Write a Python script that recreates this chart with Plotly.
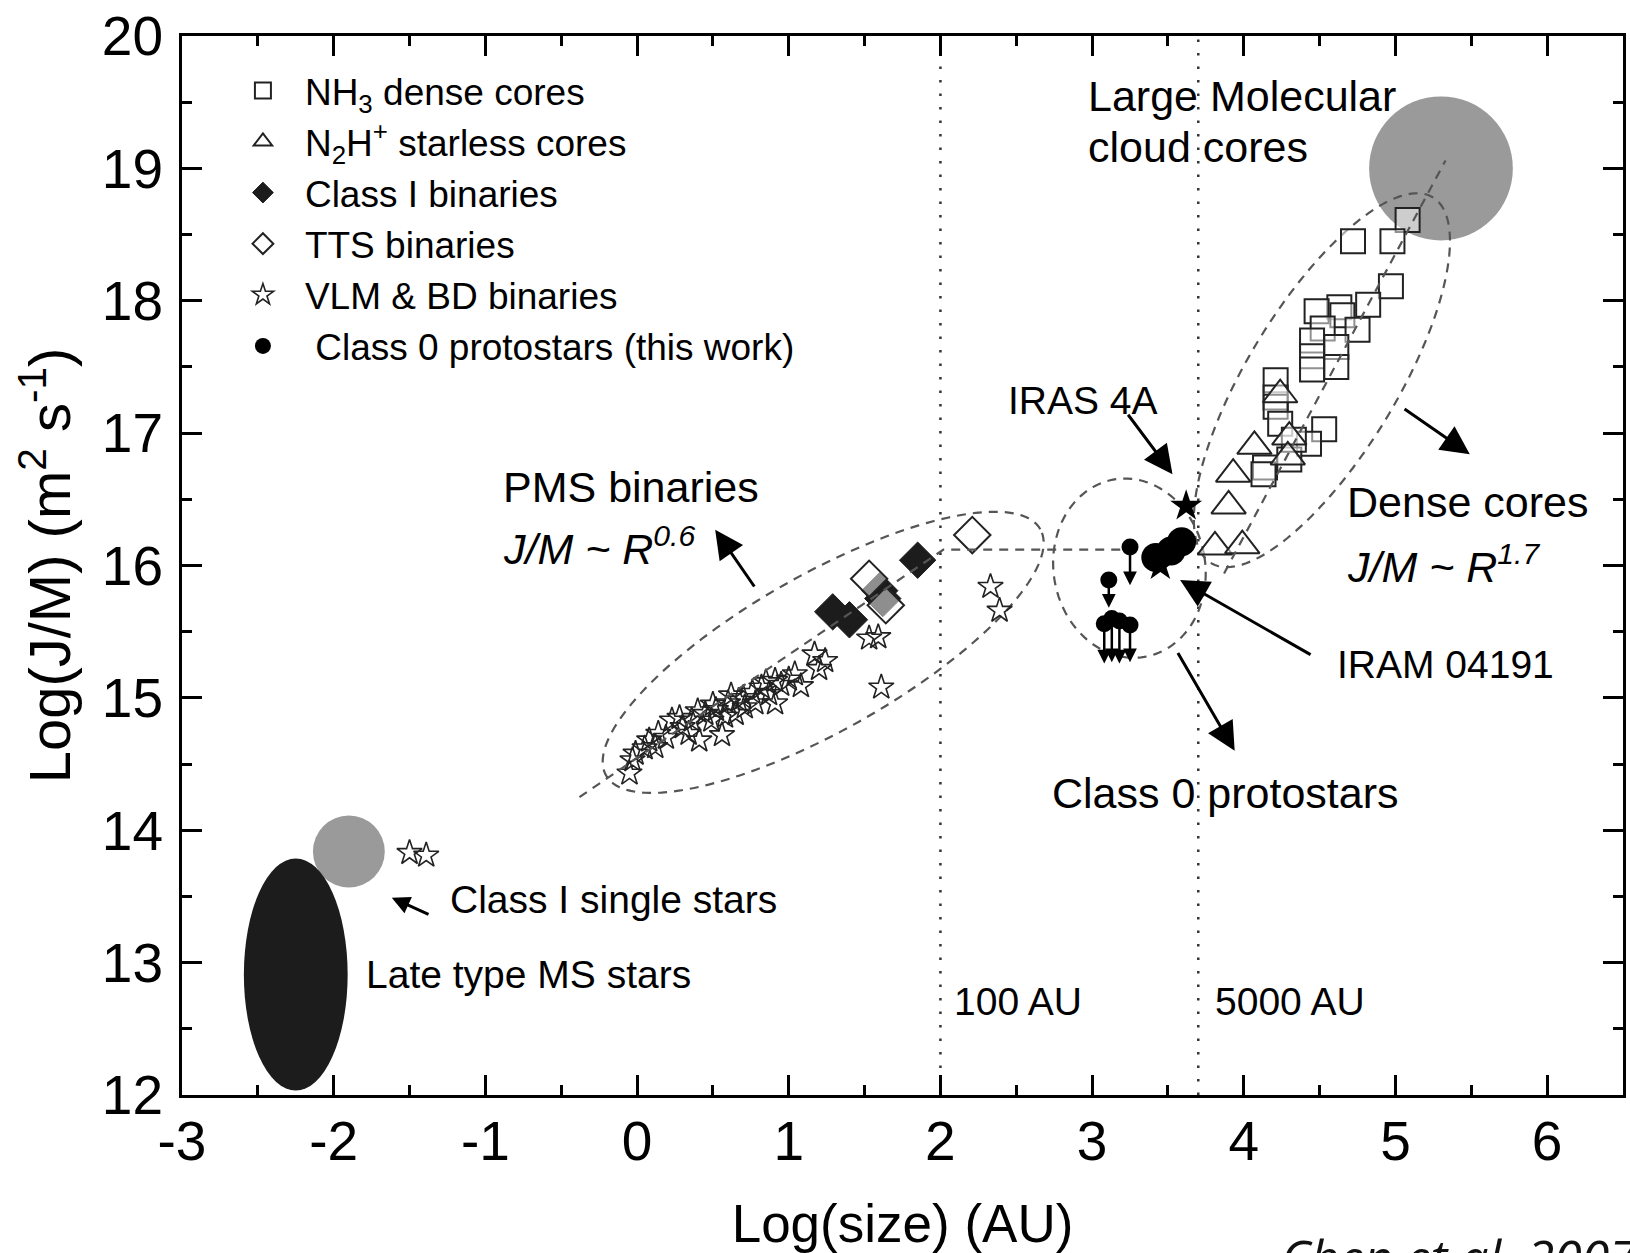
import numpy as np
import plotly.graph_objects as go

# ---------------- data ----------------
nh3_x = [5.08, 4.72, 4.98, 4.97, 4.82, 4.63, 4.48, 4.65, 4.75, 4.52, 4.45, 4.61, 4.45,
         4.61, 4.45, 4.21, 4.21, 4.21, 4.53, 4.43, 4.24, 4.14, 4.30, 4.33, 4.13]
nh3_y = [18.61, 18.45, 18.45, 18.11, 17.97, 17.95, 17.92, 17.89, 17.78, 17.79, 17.70, 17.65, 17.58,
         17.50, 17.48, 17.40, 17.27, 17.20, 17.03, 16.92, 17.07, 16.74, 16.80, 16.95, 16.69]

n2h_x = [4.24, 4.30, 4.07, 4.29, 3.93, 3.90, 3.81, 3.99]
n2h_y = [17.29, 16.97, 16.90, 16.82, 16.69, 16.45, 16.14, 16.15]

c1bin_x = [1.85, 1.60, 1.29, 1.40, 1.62]
c1bin_y = [16.04, 15.81, 15.65, 15.59, 15.75]

tts_x = [2.21, 1.53, 1.64]
tts_y = [16.23, 15.90, 15.70]

vlm_x = [2.33, 2.39, 1.53, 1.59, 1.61, 1.24, 1.17, 1.08, 1.00, 0.91, 0.91, 0.82, 0.76, 0.67,
         0.71, 0.60, 0.58, 0.52, 0.45, 0.56, 0.41, 0.36, 0.30, 0.23, 0.19, 0.12, 0.14, -0.01,
         -0.05, -0.03, 0.78, 0.87, 1.04, 0.65, 0.49, 0.34, 0.08, 0.95, 0.70, 0.50, 0.85, 0.62,
         1.20, 0.28, 0.05, 0.40, -1.50, -1.39]
vlm_y = [15.84, 15.66, 15.45, 15.46, 15.08, 15.28, 15.33, 15.09, 15.14, 15.13, 14.96, 15.08, 15.04, 14.98,
         14.93, 14.96, 14.86, 14.91, 14.88, 14.72, 14.68, 14.83, 14.78, 14.83, 14.70, 14.63, 14.73, 14.58,
         14.43, 14.53, 14.96, 15.03, 15.18, 14.88, 14.83, 14.73, 14.68, 15.10, 15.00, 14.95, 15.12, 15.02,
         15.22, 14.85, 14.62, 14.90, 13.83, 13.81]

# Class 0 protostars (this work): small symbols are upper limits
c0_lim_x = [3.25, 3.11, 3.08, 3.13, 3.18, 3.25]
c0_lim_y = [16.14, 15.89, 15.56, 15.60, 15.58, 15.55]
c0_lim_to = [15.85, 15.68, 15.26, 15.27, 15.26, 15.27]
c0_big_x = [3.42, 3.52, 3.59]
c0_big_y = [16.06, 16.11, 16.18]

special_names = ["IRAS 4A", "IRAM 04191"]
special_x = [3.62, 3.45]
special_y = [16.45, 16.00]

# fitted trends
pms_fit_x = [-0.38, 2.02, 3.20]
pms_fit_y = [14.25, 16.12, 16.12]
core_fit_x = [3.87, 5.33]
core_fit_y = [15.94, 19.06]

x_ticks = [-3, -2, -1, 0, 1, 2, 3, 4, 5, 6]
y_ticks = [12, 13, 14, 15, 16, 17, 18, 19, 20]

# ---------------- layout geometry ----------------
W, H = 1630, 1253
ML, MR, MT, MB = 182, 4, 36, 158
X0, X1, Y0, Y1 = -3, 6.5, 12, 20
SX = (W - ML - MR) / (X1 - X0)
SY = (H - MT - MB) / (Y1 - Y0)

FONT = "Liberation Sans, Arial, sans-serif"

fig = go.Figure()


def ellipse_path(cx, cy, a_px, b_px, ang_deg, n=160):
    t = np.linspace(0, 2 * np.pi, n)
    ang = np.deg2rad(ang_deg)
    dx = a_px * np.cos(t) * np.cos(ang) - b_px * np.sin(t) * np.sin(ang)
    dy = a_px * np.cos(t) * np.sin(ang) + b_px * np.sin(t) * np.cos(ang)
    xs = cx + dx / SX
    ys = cy + dy / SY
    return "M " + " L ".join(f"{x:.4f},{y:.4f}" for x, y in zip(xs, ys)) + " Z"


def px_circle(cx, cy, rx_px, ry_px, color, layer="below"):
    fig.add_shape(type="circle", xref="x", yref="y",
                  x0=cx - rx_px / SX, x1=cx + rx_px / SX,
                  y0=cy - ry_px / SY, y1=cy + ry_px / SY,
                  fillcolor=color, line=dict(width=0), layer=layer)


# filled regions
px_circle(5.30, 19.00, 72, 72, "#9a9a9a")          # large molecular cloud cores
px_circle(-1.90, 13.84, 36, 36, "#9a9a9a")         # class I single stars
px_circle(-2.25, 12.91, 52, 116, "#1c1c1c")        # late type MS stars

# dashed group ellipses
DASH_E = "9px,7px"
for cx, cy, a, b, ang in [(1.227, 15.344, 250, 78, 29.5),
                          (4.515, 17.40, 214, 75, 58.7),
                          (3.246, 15.98, 76, 90, 10)]:
    fig.add_shape(type="path", xref="x", yref="y", path=ellipse_path(cx, cy, a, b, ang),
                  line=dict(color="#555555", width=2.2, dash=DASH_E), layer="below")

# vertical dotted lines (100 AU, 5000 AU)
for xv in [2.0, 3.7]:
    fig.add_shape(type="line", xref="x", yref="paper", x0=xv, x1=xv, y0=0, y1=1,
                  line=dict(color="#333333", width=2.5, dash="2.5px,11px"), layer="below")

# ---------------- data traces ----------------
fig.add_trace(go.Scatter(x=nh3_x, y=nh3_y, mode="markers", name="NH<sub>3</sub> dense cores",
                         marker=dict(symbol="square", size=24, color="rgba(255,255,255,0.5)",
                                     line=dict(color="#222222", width=2))))
fig.add_trace(go.Scatter(x=n2h_x, y=n2h_y, mode="markers", name="N<sub>2</sub>H<sup>+</sup> starless cores",
                         marker=dict(symbol="triangle-up", size=30, color="rgba(255,255,255,0.5)",
                                     line=dict(color="#222222", width=2))))
fig.add_trace(go.Scatter(x=c1bin_x, y=c1bin_y, mode="markers", name="Class I binaries",
                         marker=dict(symbol="diamond", size=28, color="#1c1c1c",
                                     line=dict(color="#1c1c1c", width=1))))
fig.add_trace(go.Scatter(x=tts_x, y=tts_y, mode="markers", name="TTS binaries",
                         marker=dict(symbol="diamond", size=28, color="rgba(255,255,255,0.5)",
                                     line=dict(color="#222222", width=2))))
fig.add_trace(go.Scatter(x=vlm_x, y=vlm_y, mode="markers", name="VLM & BD binaries",
                         marker=dict(symbol="star-open", size=19, color="#222222",
                                     line=dict(width=1.6))))
fig.add_trace(go.Scatter(x=c0_lim_x, y=c0_lim_y, mode="markers", name=" Class 0 protostars (this work)",
                         marker=dict(symbol="circle", size=17, color="black")))
fig.add_trace(go.Scatter(x=c0_big_x, y=c0_big_y, mode="markers", showlegend=False,
                         marker=dict(symbol="circle", size=29, color="black")))
fig.add_trace(go.Scatter(x=special_x, y=special_y, mode="markers", showlegend=False,
                         text=special_names, hoverinfo="text",
                         marker=dict(symbol="star", size=24, color="black")))

# fitted trend lines
fig.add_trace(go.Scatter(x=pms_fit_x, y=pms_fit_y, mode="lines", showlegend=False, hoverinfo="skip",
                         line=dict(color="#555555", width=2.2, dash=DASH_E)))
fig.add_trace(go.Scatter(x=core_fit_x, y=core_fit_y, mode="lines", showlegend=False, hoverinfo="skip",
                         line=dict(color="#555555", width=2.2, dash=DASH_E)))

# upper-limit arrows for class 0 sources
for xs, ys, yt in zip(c0_lim_x, c0_lim_y, c0_lim_to):
    fig.add_annotation(x=xs, y=yt, ax=xs, ay=ys, xref="x", yref="y", axref="x", ayref="y",
                       text="", showarrow=True, arrowhead=2, arrowsize=1.1, arrowwidth=2.5,
                       arrowcolor="black", standoff=0)


def arrow(xh, yh, xt, yt, size=1.9):
    fig.add_annotation(x=xh, y=yh, ax=xt, ay=yt, xref="x", yref="y", axref="x", ayref="y",
                       text="", showarrow=True, arrowhead=2, arrowsize=size, arrowwidth=3,
                       arrowcolor="black", standoff=0)


arrow(0.515, 16.27, 0.78, 15.83)          # PMS binaries
arrow(5.49, 16.84, 5.05, 17.19)           # dense cores
arrow(3.94, 14.60, 3.56, 15.35)           # class 0 protostars
arrow(3.53, 16.69, 3.23, 17.15)           # IRAS 4A
arrow(3.58, 15.89, 4.45, 15.32)           # IRAM 04191
arrow(-1.617, 13.49, -1.365, 13.36, 1.2)  # class I single stars


def label(x, y, text, size=43, italic=False):
    fig.add_annotation(x=x, y=y, xref="x", yref="y", text=text, showarrow=False,
                       xanchor="left", yanchor="middle",
                       font=dict(family=FONT, size=size, color="black",
                                 style="italic" if italic else "normal"))


label(2.96, 19.55, "Large Molecular")
label(2.96, 19.16, "cloud cores")
label(2.43, 17.25, "IRAS 4A", 39)
label(-0.90, 16.59, "PMS binaries")
label(-0.90, 16.15, "J/M ~ R<sup>0.6</sup>", italic=True)
label(4.67, 16.48, "Dense cores")
label(4.67, 16.01, "J/M ~ R<sup>1.7</sup>", italic=True)
label(4.60, 15.25, "IRAM 04191", 39)
label(2.72, 14.28, "Class 0 protostars")
label(-1.245, 13.48, "Class I single stars", 39)
label(-1.80, 12.91, "Late type MS stars", 39)
label(2.076, 12.71, "100 AU", 39)
label(3.80, 12.71, "5000 AU", 39)

fig.add_annotation(x=(1281 - ML) / (W - ML - MR), y=-(1257 - (H - MB)) / (H - MT - MB),
                   xref="paper", yref="paper", text="Chen et al. 2007", showarrow=False,
                   xanchor="left", yanchor="middle",
                   font=dict(family="Open Sans, Noto Sans, sans-serif", size=50, color="#111111",
                             style="italic"))

axis_common = dict(showline=True, linecolor="black", linewidth=3, mirror="allticks",
                   ticks="inside", ticklen=20, tickwidth=2.5, tickcolor="black",
                   showgrid=False, zeroline=False,
                   tickfont=dict(family=FONT, size=55, color="black"),
                   minor=dict(dtick=0.5, ticks="inside", ticklen=10, tickwidth=2.5, tickcolor="black"))

fig.update_layout(
    width=W, height=H,
    margin=dict(l=ML, r=MR, t=MT, b=MB),
    paper_bgcolor="white", plot_bgcolor="white",
    xaxis=dict(range=[X0, X1], tickvals=x_ticks, ticktext=[str(v) for v in x_ticks],
               ticklabelstandoff=-4,
               title=dict(text="Log(size) (AU)", font=dict(family=FONT, size=53, color="black"),
                          standoff=34),
               **axis_common),
    yaxis=dict(range=[Y0, Y1], tickvals=y_ticks, ticktext=[str(v) for v in y_ticks],
               ticklabelstandoff=5,
               title=dict(text="Log(J/M) (m<sup>2</sup> s<sup>-1</sup>)",
                          font=dict(family=FONT, size=58, color="black"), standoff=13),
               **axis_common),
    legend=dict(x=(221 - ML) / (W - ML - MR), y=0.9775, xanchor="left", yanchor="top",
                bgcolor="rgba(0,0,0,0)", borderwidth=0, itemwidth=74, tracegroupgap=0,
                font=dict(family=FONT, size=37, color="black")),
    showlegend=True,
)

fig.write_html("out.html")
